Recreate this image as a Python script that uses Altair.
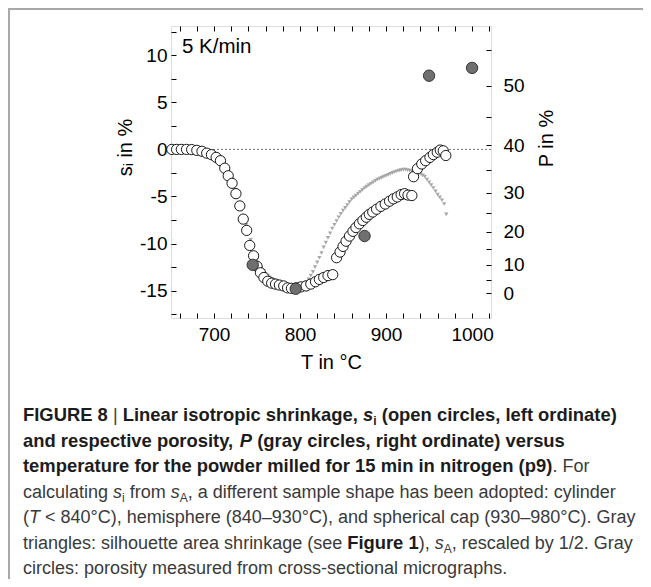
import altair as alt
import pandas as pd

# ---------------- data ----------------
# open circles: linear isotropic shrinkage s_i (%), three sample-shape segments
si_T = [651, 656.5, 662, 668, 674, 680, 686, 691.5, 697, 702.5, 707.5, 712.5, 716.5, 721,
        725.5, 730, 734, 738, 741.5, 746, 750, 754, 758, 762.5, 767, 771.5, 776, 781,
        785.5, 790, 795.5, 801, 807, 812.5, 818, 822.5, 827.5, 832.5, 838,
        842.5, 846.5, 850, 853.5, 857.5, 861.5, 865, 869, 873, 877, 880.5, 884.5, 889,
        894, 899, 904, 908.5, 913, 917.5, 921.5, 925.5, 930,
        932, 936.5, 941.5, 946, 951, 955, 959.5, 963, 966.5, 969.5]
si_val = [0.0, 0.0, 0.0, 0.0, -0.02, -0.1, -0.2, -0.4, -0.56, -0.85, -1.2, -2.0, -2.8, -3.6,
          -4.7, -6.0, -7.4, -8.6, -10.2, -11.3, -12.4, -13.1, -13.6, -14.0, -14.2, -14.3, -14.4, -14.5,
          -14.7, -14.75, -14.7, -14.6, -14.5, -14.3, -14.05, -13.8, -13.6, -13.4, -13.3,
          -11.5, -10.9, -10.3, -9.75, -9.2, -8.7, -8.3, -7.9, -7.55, -7.2, -6.9, -6.65, -6.35,
          -6.05, -5.8, -5.5, -5.25, -5.05, -4.8, -4.7, -4.85, -4.9,
          -2.9, -2.05, -1.55, -1.2, -0.85, -0.55, -0.3, -0.07, -0.15, -0.65]

# gray triangles: silhouette area shrinkage s_A rescaled by 1/2 (%)
sa_T = [690, 692.5, 695, 697.5, 700, 702.5, 705, 707.5, 710, 712.5, 715, 717.5, 720, 722.5,
        725, 727.5, 730, 732.5, 735, 737.5, 740, 742.5, 745, 747.5, 750, 752.5, 755, 757.5,
        760, 762.5, 765, 767.5, 770, 772.5, 775, 777.5, 780, 782.5, 785, 787.5, 790, 792.5,
        795, 797.5, 800, 802.5, 805, 807.5, 810, 812.5, 815, 817.5, 820, 822.5, 825, 827.5,
        830, 832.5, 835, 837.5, 840, 842.5, 845, 847.5, 850, 852.5, 855, 857.5, 860, 862.5,
        865, 867.5, 870, 872.5, 875, 877.5, 880, 882.5, 885, 887.5, 890, 892.5, 895, 897.5,
        900, 902.5, 905, 907.5, 910, 912.5, 915, 917.5, 920, 922.5, 925, 927.5, 930, 932.5,
        935, 937.5, 940, 942.5, 945, 947.5, 950, 952.5, 955, 957.5, 960, 962.5, 965, 967.5,
        970]
sa_val = [-0.2, -0.25, -0.3, -0.4, -0.5, -0.7, -0.9, -1.2, -1.5, -1.9, -2.3, -2.7, -3.2, -3.7,
          -4.3, -5.0, -5.7, -6.4, -7.2, -8.0, -8.8, -9.6, -10.3, -11.0, -11.7, -12.2, -12.6, -12.9,
          -13.2, -13.4, -13.6, -13.75, -13.9, -14.0, -14.1, -14.2, -14.3, -14.45, -14.6, -14.75, -14.9, -15.0,
          -15.1, -15.05, -14.9, -14.7, -14.4, -14.1, -13.8, -13.4, -13.0, -12.5, -12.0, -11.5, -11.0, -10.4,
          -9.9, -9.4, -8.9, -8.4, -8.0, -7.6, -7.2, -6.85, -6.5, -6.2, -5.9, -5.6, -5.3, -5.1,
          -4.9, -4.7, -4.5, -4.3, -4.1, -3.95, -3.8, -3.65, -3.5, -3.35, -3.2, -3.1, -3.0, -2.9,
          -2.8, -2.7, -2.6, -2.5, -2.4, -2.32, -2.25, -2.2, -2.15, -2.15, -2.2, -2.25, -2.3, -2.35,
          -2.4, -2.5, -2.6, -2.75, -2.9, -3.2, -3.5, -3.8, -4.1, -4.45, -4.8, -5.1, -5.4, -5.8,
          -6.9]

# gray circles: porosity P (%) from micrographs
P_T = [745, 795, 875, 950, 1000]
P_val = [10.0, 1.7, 18.8, 51.5, 52.6]

RHO0 = 0.608          # relative green density linking P and s_i
x_ticks = [660, 680, 700, 720, 740, 760, 780, 800, 820, 840, 860, 880, 900, 920, 940, 960, 980, 1000, 1020]
y_ticks = [-17.5, -15, -12.5, -10, -7.5, -5, -2.5, 0, 2.5, 5, 7.5, 10, 12.5]
P_ticks = [0, 5, 10, 15, 20, 25, 30, 35, 40, 45, 50, 55]

caption_lines = [
    [("FIGURE 8 ", "b"), ("|", "n"), (" Linear isotropic shrinkage, ", "b"), ("s", "bi"), ("i", "bsub"),
     (" (open circles, left ordinate)", "b")],
    [("and respective porosity, ", "b"), ("P", "bi"), (" (gray circles, right ordinate) versus", "b")],
    [("temperature for the powder milled for 15 min in nitrogen (p9)", "b"), (". For", "n")],
    [("calculating ", "n"), ("s", "i"), ("i", "sub"), (" from ", "n"), ("s", "i"), ("A", "sub"),
     (", a different sample shape has been adopted: cylinder", "n")],
    [("(", "n"), ("T", "i"), (" < 840°C), hemisphere (840–930°C), and spherical cap (930–980°C). Gray", "n")],
    [("triangles: silhouette area shrinkage (see ", "n"), ("Figure 1", "b"), ("), ", "n"), ("s", "i"), ("A", "sub"),
     (", rescaled by 1/2. Gray", "n")],
    [("circles: porosity measured from cross-sectional micrographs.", "n")],
]

# ---------------- helpers ----------------
def s_from_P(p):
    return 100 * ((RHO0 / (1 - p / 100)) ** (1 / 3) - 1)

P_tick_pos = [s_from_P(p) for p in P_ticks]

REG = {' ': 278, ',': 278, '.': 278, '(': 333, ')': 333, '|': 260, ':': 278, '<': 584, '°': 400,
       '–': 556, '/': 278, '-': 333,
       'a': 556, 'b': 556, 'c': 500, 'd': 556, 'e': 556, 'f': 278, 'g': 556, 'h': 556, 'i': 222,
       'j': 222, 'k': 500, 'l': 222, 'm': 833, 'n': 556, 'o': 556, 'p': 556, 'q': 556, 'r': 333,
       's': 500, 't': 278, 'u': 556, 'v': 500, 'w': 722, 'x': 500, 'y': 500, 'z': 500,
       'A': 667, 'C': 722, 'E': 667, 'F': 611, 'G': 778, 'I': 278, 'L': 556, 'P': 667, 'R': 722,
       'T': 611, 'U': 722}
BOLD = {' ': 278, ',': 278, '.': 278, '(': 333, ')': 333, '|': 280, ':': 333, '<': 584, '°': 400,
        '–': 556, '/': 278, '-': 333,
        'a': 556, 'b': 611, 'c': 556, 'd': 611, 'e': 556, 'f': 333, 'g': 611, 'h': 611, 'i': 278,
        'j': 278, 'k': 556, 'l': 278, 'm': 889, 'n': 611, 'o': 611, 'p': 611, 'q': 611, 'r': 389,
        's': 556, 't': 333, 'u': 611, 'v': 556, 'w': 778, 'x': 556, 'y': 556, 'z': 500,
        'A': 722, 'C': 722, 'E': 667, 'F': 611, 'G': 778, 'I': 278, 'L': 611, 'P': 667, 'R': 722,
        'T': 611, 'U': 722}

FONT = "Liberation Sans"
CAP_SIZE = 18
CAP_BOLD = 18.4
SUB_SIZE = 12

def seg_style(kind):
    bold = kind.startswith("b")
    italic = kind in ("i", "bi")
    sub = kind.endswith("sub")
    size = SUB_SIZE if sub else (CAP_BOLD if bold else CAP_SIZE)
    return bold, italic, sub, size

def text_width(txt, bold, size):
    table = BOLD if bold else REG
    return sum(table.get(ch, 556) for ch in txt) / 1000 * size

W, H = 320, 292
X_DOMAIN = [650, 1022]
Y_DOMAIN = [-17.9, 13.1]
xs = alt.Scale(domain=X_DOMAIN, nice=False, zero=False)
ys = alt.Scale(domain=Y_DOMAIN, nice=False, zero=False)

one = alt.Data(values=[{}])

common_axis = dict(domain=False, grid=False, tickColor="black", tickWidth=1, tickSize=5,
                   labelFont=FONT, labelFontSize=19, labelColor="black", labelOverlap=False,
                   labelFlush=False, titleFont=FONT, titleFontSize=20, titleFontWeight="normal",
                   titleColor="black", offset=-5)

# ---------------- layers ----------------
zero_df = pd.DataFrame({"s": [0.0]})
zero_rule = alt.Chart(zero_df).mark_rule(color="#555555", strokeWidth=0.8, strokeDash=[2, 2]).encode(
    y=alt.Y("s:Q", scale=ys, axis=None)
)

tri_df = pd.DataFrame({"T": sa_T, "s": sa_val})
tri = alt.Chart(tri_df).mark_point(shape="triangle-down", filled=True, color="#a6a6a6",
                                   size=18, opacity=1).encode(
    x=alt.X("T:Q", scale=xs, axis=alt.Axis(orient="top", values=x_ticks, labels=False, title=None,
                                           **common_axis)),
    y=alt.Y("s:Q", scale=ys, axis=None),
)

si_df = pd.DataFrame({"T": si_T, "s": si_val})
circ = alt.Chart(si_df).mark_point(shape="circle", filled=True, fill="white", stroke="black",
                                   strokeWidth=0.9, size=105, opacity=1, fillOpacity=1).encode(
    x=alt.X("T:Q", scale=xs, axis=alt.Axis(
        orient="bottom", values=x_ticks,
        labelExpr="datum.value % 100 == 0 ? toString(datum.value) : ''",
        labelBaseline="alphabetic", labelPadding=22,
        title="T in °C", titleBaseline="alphabetic", titleY=55, titleX=W / 2, titleAnchor="middle",
        **common_axis)),
    y=alt.Y("s:Q", scale=ys, axis=alt.Axis(
        orient="left", values=y_ticks,
        labelExpr="datum.value % 5 == 0 ? toString(datum.value) : ''",
        labelPadding=4, labelAlign="right", labelBaseline="middle",
        title="sᵢ in %", titleAngle=270, titleAlign="center", titleBaseline="alphabetic",
        titleX=-45, titleY=121, **common_axis)),
)

p_expr = "round(100*(1-%s/pow(1+datum.value/100,3)))" % RHO0
por_df = pd.DataFrame({"T": P_T, "P": P_val})
por = alt.Chart(por_df).transform_calculate(
    s="100*(pow(%s/(1-datum.P/100), 1/3)-1)" % RHO0
).mark_point(shape="circle", filled=True, fill="#6f6f6f", stroke="#2a2a2a", strokeWidth=0.9,
             size=130, opacity=1, fillOpacity=1).encode(
    x=alt.X("T:Q", scale=xs, axis=None),
    y=alt.Y("s:Q", scale=ys, axis=alt.Axis(
        orient="right", values=P_tick_pos,
        labelExpr="(%s) %% 10 == 0 && (%s) < 55 ? toString(%s) : ''" % (p_expr, p_expr, p_expr),
        labelPadding=12, labelAlign="left", labelBaseline="middle",
        title="P in %", titleAngle=270, titleAlign="center", titleBaseline="alphabetic",
        titleX=66, titleY=112, **common_axis)),
)

rate = alt.Chart(one).mark_text(text="5 K/min", font=FONT, fontSize=20.5, align="left",
                                baseline="alphabetic", color="black").encode(
    x=alt.value(11), y=alt.value(27))

# caption (plot coordinates; plot origin is at page (171, 26))
cap_layers = []
x0 = -148
y0 = 395
dy = 25.5
for li, line in enumerate(caption_lines):
    xcur = x0
    base = y0 + li * dy
    for txt, kind in line:
        bold, italic, sub, size = seg_style(kind)
        stripped = txt.lstrip(" ")
        lead = text_width(txt[: len(txt) - len(stripped)], bold, size)
        shown = stripped.rstrip(" ")
        if shown:
            cap_layers.append(
                alt.Chart(one).mark_text(
                    text=shown, font=FONT, fontSize=size,
                    fontWeight="bold" if bold else "normal",
                    fontStyle="italic" if italic else "normal",
                    color="#1c1c1c" if bold else "#3a3a3a",
                    align="left", baseline="alphabetic",
                ).encode(x=alt.value(xcur + lead), y=alt.value(base + (4 if sub else 0)))
            )
        xcur += text_width(txt, bold, size)

# figure border (top and left gray lines)
border_top = alt.Chart(one).mark_rule(color="#a8a8a8", strokeWidth=2).encode(
    x=alt.value(-163), x2=alt.value(480), y=alt.value(-17))
border_left = alt.Chart(one).mark_rule(color="#a8a8a8", strokeWidth=2).encode(
    x=alt.value(-162), y=alt.value(-17), y2=alt.value(560))

chart = alt.layer(
    border_top, border_left, zero_rule, tri, circ, por, rate, *cap_layers
).resolve_scale(x="independent", y="independent").properties(
    width=W, height=H,
    padding={"left": 163, "top": 18, "right": 152, "bottom": 261},
    autosize=alt.AutoSizeParams(type="none"),
).configure_view(stroke="black", strokeWidth=1.2).configure(background="white")

chart.save("out.html", embed_options={"renderer": "svg", "actions": False})
